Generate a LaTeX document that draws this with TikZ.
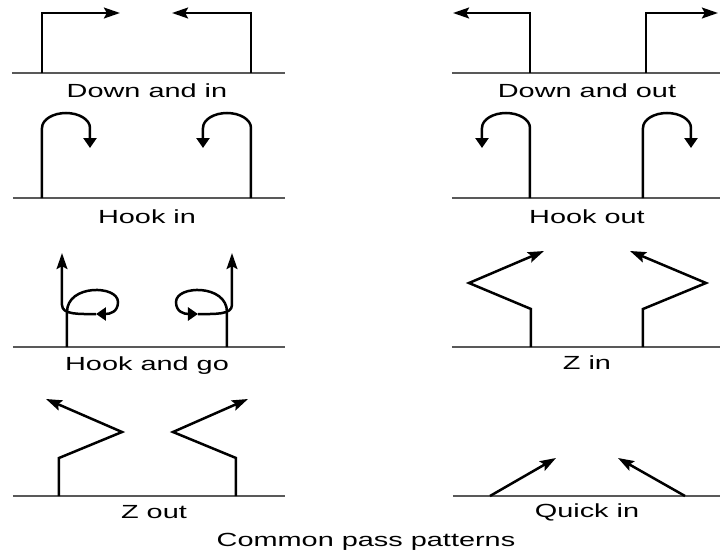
\documentclass[tikz,border=0pt]{standalone}
\usepackage{fontspec}
\newfontfamily\passfont[FakeStretch=1.52]{Liberation Sans}
\usetikzlibrary{arrows.meta}

\begin{document}
\begin{tikzpicture}[
        x=0.5pt, y=-0.5pt,
        ground/.style={line width=0.85pt, draw=black!65},
        pass/.style={line width=1.25pt, draw=black, line join=miter,
            -{Stealth[length=8pt, width=5.4pt, inset=1.4pt]}},
        hook/.style={line width=1.25pt, draw=black,
            -{Triangle[length=5pt, width=6.5pt]}},
        lbl/.style={anchor=base, font=\passfont\fontsize{9.5}{11}\selectfont, text=black, inner sep=0pt}
    ]
    \useasboundingbox (0,0) rectangle (720,552);

    % Down and in
    \draw[ground] (12,73) -- (285,73);
    \draw[pass] (42,73) -- (42,13) -- (120,13);
    \draw[pass] (251,73) -- (251,13) -- (172,13);
    \node[lbl] (dnin) at (147,97) {Down and in};

    % Down and out
    \draw[ground] (452,73) -- (720,73);
    \draw[pass] (530,73) -- (530,13) -- (453,13);
    \draw[pass] (646,73) -- (646,13) -- (718,13);
    \node[lbl] (dnout) at (587,97) {Down and out};

    % Hook in
    \draw[ground] (13,198) -- (285,198);
    \draw[hook] (42,198) -- (42,128) arc[start angle=180, end angle=360, x radius=24, y radius=15] -- (90,148);
    \draw[hook] (251,198) -- (251,128) arc[start angle=0, end angle=-180, x radius=24, y radius=15] -- (203,148);
    \node[lbl] (hkin) at (147,223) {Hook in};

    % Hook out
    \draw[ground] (452,198) -- (720,198);
    \draw[hook] (530,198) -- (530,128) arc[start angle=0, end angle=-180, x radius=24, y radius=15] -- (482,148);
    \draw[hook] (643,198) -- (643,128) arc[start angle=180, end angle=360, x radius=24, y radius=15] -- (691,148);
    \node[lbl] (hkout) at (587,223) {Hook out};

    % Hook and go
    \draw[ground] (13,347) -- (285,347);
    \draw[hook] (67,347) -- (67,312) .. controls (67,284) and (118,285) .. (118,302)
        .. controls (118,312) and (110,314) .. (96,314);
    \draw[pass] (96,314) .. controls (80,314) and (62,315) .. (62,305) -- (62,253);
    \draw[hook] (227,347) -- (227,312) .. controls (227,284) and (176,285) .. (176,302)
        .. controls (176,312) and (184,314) .. (198,314);
    \draw[pass] (198,314) .. controls (214,314) and (232,315) .. (232,305) -- (232,253);
    \node[lbl] (hkgo) at (147,370) {Hook and go};

    % Z in
    \draw[ground] (452,347) -- (720,347);
    \draw[pass] (531,347) -- (531,309) -- (469,283) -- (544,251);
    \draw[pass] (643,347) -- (643,309) -- (706,283) -- (630,251);
    \node[lbl] (zin) at (587,369) {Z in};

    % Z out
    \draw[ground] (13,496) -- (285,496);
    \draw[pass] (59,496) -- (59,458) -- (122,432) -- (46,399);
    \draw[pass] (236,496) -- (236,458) -- (173,432) -- (248,399);
    \node[lbl] (zout) at (154,518) {Z out};

    % Quick in
    \draw[ground] (453,496) -- (720,496);
    \draw[pass] (490,496) -- (556,458);
    \draw[pass] (685,496) -- (618,458);
    \node[lbl] (qin) at (587,517) {Quick in};

    % Caption
    \node[lbl] (title) at (366,546) {Common pass patterns};
\end{tikzpicture}
\end{document}
